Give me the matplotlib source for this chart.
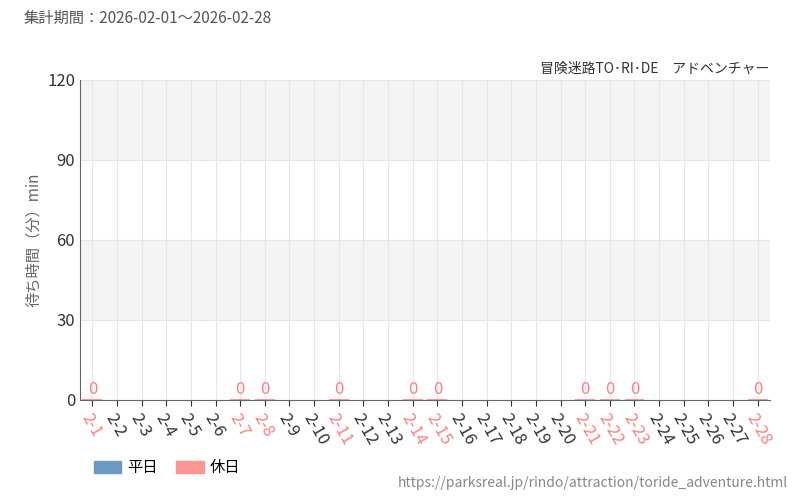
import matplotlib
matplotlib.use("Agg")
import matplotlib.pyplot as plt
from matplotlib.patches import Patch

plt.rcParams['font.family'] = ['Noto Sans CJK JP', 'DejaVu Sans']

days = [f"2-{d}" for d in range(1, 29)]
holidays = ["2-1","2-7","2-8","2-11","2-14","2-15","2-21","2-22","2-23","2-28"]
weekday_vals = [0 if d not in holidays else None for d in days]
holiday_vals = [0 if d in holidays else None for d in days]

fig = plt.figure(figsize=(8, 5), dpi=100)
ax = fig.add_axes([0.1, 0.2, 0.8625, 0.64])
ax.set_xlim(-0.5, len(days) - 0.5)
ax.set_ylim(0, 120)
for lo in (30, 90):
    ax.axhspan(lo, lo + 30, color='#f5f5f5', zorder=0)
ax.set_yticks([0, 30, 60, 90, 120])
ax.yaxis.grid(True, color='#e6e6e6', lw=0.8)
ax.set_xticks(range(len(days)))
ax.xaxis.grid(True, color='#e6e6e6', lw=0.8)
ax.set_axisbelow(True)
for i, v in enumerate(holiday_vals):
    if v is not None:
        ax.bar(i, max(v, 0.4), width=0.8, color='#ff9494', zorder=3)
        ax.text(i, v + 0.8, str(v), color='#ff8080', ha='center', va='bottom', fontsize=12)
ax.set_xticklabels(days, rotation=-60, ha='left', rotation_mode='anchor', fontsize=12)
for lbl, d in zip(ax.get_xticklabels(), days):
    lbl.set_color('#ff8080' if d in holidays else '#333333')
ax.tick_params(axis='y', labelsize=12, colors='#333333', length=0)
ax.tick_params(axis='x', length=4, color='#333333')
for s in ('top', 'right'):
    ax.spines[s].set_visible(False)
ax.spines['left'].set_color('#666666')
ax.spines['bottom'].set_color('#666666')
ax.set_ylabel('待ち時間（分）min', color='#666666', fontsize=11)

fig.text(0.03, 0.955, '集計期間：2026-02-01～2026-02-28', color='#555555', fontsize=11)
fig.text(0.962, 0.855, '冒険迷路TO･RI･DE　アドベンチャー', color='#333333', fontsize=10, ha='right')
fig.text(0.985, 0.025, 'https://parksreal.jp/rindo/attraction/toride_adventure.html', color='#888888', fontsize=10, ha='right')
fig.legend(handles=[Patch(color='#6b9bc3', label='平日'), Patch(color='#ff9494', label='休日')],
           loc='lower left', bbox_to_anchor=(0.1, 0.02), ncol=2, frameon=False, fontsize=11,
           handlelength=1.8, handleheight=0.9, handletextpad=0.4, columnspacing=1.2)
fig.savefig('out.png')
